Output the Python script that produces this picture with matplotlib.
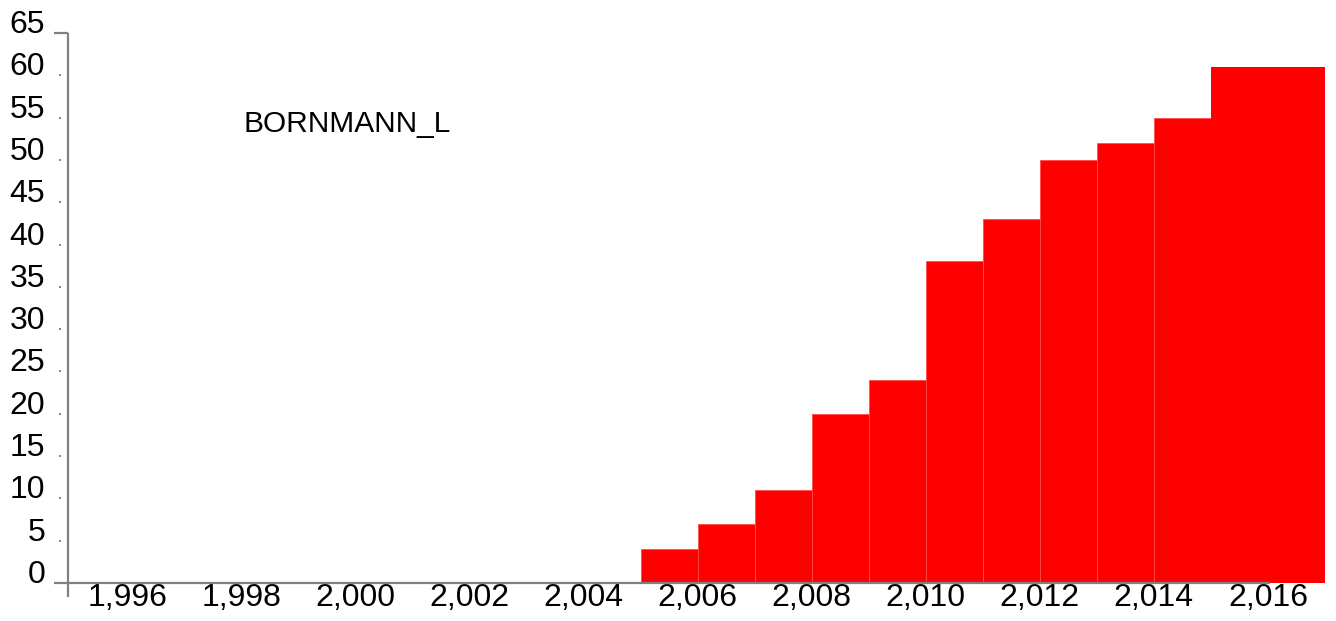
import matplotlib
matplotlib.use("Agg")
import matplotlib.pyplot as plt
import matplotlib.transforms as mtrans

years = [2005, 2006, 2007, 2008, 2009, 2010, 2011, 2012, 2013, 2014, 2015, 2016]
values = [4, 7, 11, 20, 24, 38, 43, 50, 52, 55, 61, 61]
xticks = [1996, 1998, 2000, 2002, 2004, 2006, 2008, 2010, 2012, 2014, 2016]
xticklabels = ["1,996", "1,998", "2,000", "2,002", "2,004", "2,006", "2,008",
               "2,010", "2,012", "2,014", "2,016"]
yticks = list(range(0, 70, 5))
title = "BORNMANN_L"

plt.rcParams['font.family'] = ['Liberation Sans', 'DejaVu Sans']

W, H = 1336, 621
fig = plt.figure(figsize=(W / 100, H / 100), dpi=100)
left, right, top, bottom = 67.5, 1325, 33, 583
ax = fig.add_axes([left / W, (H - bottom) / H, (right - left) / W, (bottom - top) / H])

lws = [0.6] * (len(years) - 2) + [0, 0]
ax.bar(years, values, width=1.0, align='edge', color='#ff0000',
       edgecolor='#ff4a4a', linewidth=lws, zorder=2)

ax.set_xlim(1994.95, 2017.0)
ax.set_ylim(0, 65)

for s in ax.spines.values():
    s.set_visible(False)

ax.set_xticks(xticks)
ax.set_xticklabels(xticklabels, fontsize=23)
ax.set_yticks(yticks)
ax.set_yticklabels([str(v) for v in yticks], fontsize=23)
ax.tick_params(axis='x', length=0, pad=0)
ax.tick_params(axis='y', length=0, pad=16)
for lab in ax.get_yticklabels():
    lab.set_verticalalignment('baseline')

gray = '#808080'
trans_y = mtrans.blended_transform_factory(ax.transAxes, ax.transData)
ext_x = 14 / (right - left)
ext_y = 14 / (bottom - top)
# y axis line (extends below x axis)
ax.plot([0, 0], [-ext_y, 1], transform=ax.transAxes, color=gray, lw=1.6,
        clip_on=False, zorder=5, solid_capstyle='butt')
# x axis line (extends left of y axis)
ax.plot([-ext_x, (1270 - left) / (right - left)], [0, 0], transform=ax.transAxes,
        color=gray, lw=1.6, clip_on=False, zorder=5, solid_capstyle='butt')
# top tick
ax.plot([-ext_x, 0], [65, 65], transform=trans_y, color=gray, lw=1.6,
        clip_on=False, zorder=5, solid_capstyle='butt')
# dotted minor ticks
for v in yticks[1:-1]:
    ax.plot([-ext_x + 0.004, 0], [v, v], transform=trans_y, color=gray, lw=1.4,
            linestyle=(0, (1, 4)), clip_on=False, zorder=5)

fig.text(244 / W, 1 - 124 / H, title, fontsize=21.5, ha='left', va='center')

fig.savefig("out.png", dpi=100)
